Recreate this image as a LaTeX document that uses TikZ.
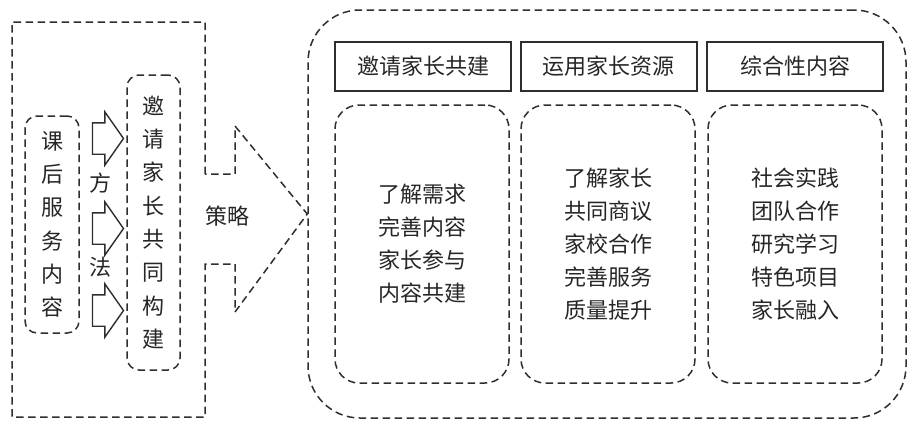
\documentclass[tikz,border=0pt]{standalone}
\usepackage{fontspec}
\setmainfont{Noto Sans CJK SC}
\usetikzlibrary{shapes.arrows}
\definecolor{inkGray}{HTML}{2E2E2E}
\definecolor{textGray}{HTML}{262626}

\begin{document}
\begin{tikzpicture}[x=1pt, y=-1pt,
    every node/.style={text=textGray},
    dashLine/.style={draw=inkGray, line width=1.5pt, dash pattern=on 7.5pt off 4.5pt},
    outerBox/.style={dashLine, rectangle, rounded corners=52pt, minimum width=598pt, minimum height=408pt},
    listBox/.style={dashLine, rectangle, rounded corners=24pt, minimum width=174pt, minimum height=278pt, align=center, font=\fontsize{22}{33}\selectfont},
    titleBox/.style={draw=inkGray, line width=2pt, rectangle, minimum width=176pt, minimum height=49pt, font=\fontsize{22}{26}\selectfont},
    sideBox/.style={dashLine, rectangle, rounded corners=12pt, align=center, inner sep=0pt, font=\fontsize{22}{33.3}\selectfont},
    blockArrow/.style={draw=inkGray, line width=1.4pt, single arrow, single arrow head extend=11pt, single arrow tip angle=110, minimum height=31pt, inner xsep=0pt, inner ysep=15pt},
    word/.style={font=\fontsize{22}{26}\selectfont, inner sep=0pt},
]
\useasboundingbox (0,0) rectangle (912,426);
% right side: three columns
\node[outerBox] (frame) at (607,214) {};
\node[titleBox] (titleA) at (423,66.5) {邀请家长共建};
\node[titleBox] (titleB) at (608.5,66.5) {运用家长资源};
\node[titleBox] (titleC) at (795,66.5) {综合性内容};
\node[listBox] (listA) at (422,244) {了解需求\\完善内容\\家长参与\\内容共建};
\node[listBox] (listB) at (608,244) {了解家长\\共同商议\\家校合作\\完善服务\\质量提升};
\node[listBox] (listC) at (795,244) {社会实践\\团队合作\\研究学习\\特色项目\\家长融入};
% left side
\draw[dashLine] (205,174) -- (205,22) -- (12,22) -- (12,417) -- (205,417) -- (205,264)
    -- (235,264) -- (235,312) -- (frame.west) -- (235,126) -- (235,174) -- cycle;
\node[sideBox, minimum width=54pt, minimum height=217pt] (content) at (52,224.5) {课\\后\\服\\务\\内\\容};
\node[sideBox, minimum width=53pt, minimum height=295pt] (build) at (153.5,222.5) {邀\\请\\家\\长\\共\\同\\构\\建};
\node[blockArrow] (arrA) at (102.5,138.5) {};
\node[blockArrow] (arrB) at (102.5,228.5) {};
\node[blockArrow] (arrC) at (102.5,310.5) {};
\node[word] (fang) at (100,183) {方};
\node[word] (fa) at (100,267) {法};
\node[word] (strategy) at (227,216) {策略};
\end{tikzpicture}
\end{document}
